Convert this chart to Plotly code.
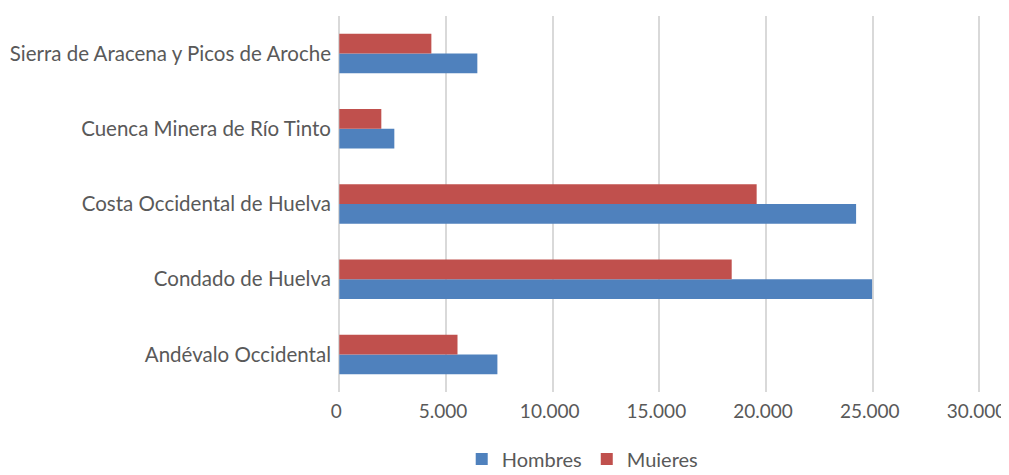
import plotly.graph_objects as go

categories = ["Andévalo Occidental", "Condado de Huelva", "Costa Occidental de Huelva",
              "Cuenca Minera de Río Tinto", "Sierra de Aracena y Picos de Aroche"]
hombres = [7410, 24970, 24220, 2580, 6470]
mujeres = [5540, 18390, 19560, 1970, 4315]
tick_vals = [0, 5000, 10000, 15000, 20000, 25000, 30000]
tick_text = ["0", "5.000", "10.000", "15.000", "20.000", "25.000", "30.000"]

FONT = "Lato"
GRAY = "#595959"

fig = go.Figure()
fig.add_trace(go.Bar(y=categories, x=hombres, name="Hombres", orientation="h",
                     marker=dict(color="#4F81BD", line=dict(width=0))))
fig.add_trace(go.Bar(y=categories, x=mujeres, name="Mujeres", orientation="h",
                     marker=dict(color="#C0504D", line=dict(width=0))))

# page body has an 8px margin on every side; figure sized/offset so the page does not overflow
fig.update_layout(
    width=1001, height=459,
    margin=dict(l=330, r=27, t=8, b=75, autoexpand=False),
    barmode="group", bargap=0.475, bargroupgap=0,
    plot_bgcolor="white", paper_bgcolor="white",
    font=dict(family=FONT, size=20, color=GRAY),
    showlegend=True,
    legend=dict(orientation="h", x=0.38, xanchor="center", y=-0.178, yanchor="middle",
                font=dict(size=20, color=GRAY), traceorder="normal"),
    xaxis=dict(range=[-60, 30120], tickvals=tick_vals, ticktext=tick_text,
               showgrid=True, gridcolor="#D9D9D9", gridwidth=1.5,
               zeroline=False, showline=False, ticks="", automargin=False,
               ticklabeloverflow="allow", ticklabelstandoff=6, ticklabelshift=-3,
               tickfont=dict(size=19, color=GRAY)),
    yaxis=dict(showgrid=False, zeroline=False, showline=False, ticks="", automargin=False,
               tickfont=dict(size=20.5, color=GRAY), ticklabelstandoff=6),
)
fig.write_html("out.html")
